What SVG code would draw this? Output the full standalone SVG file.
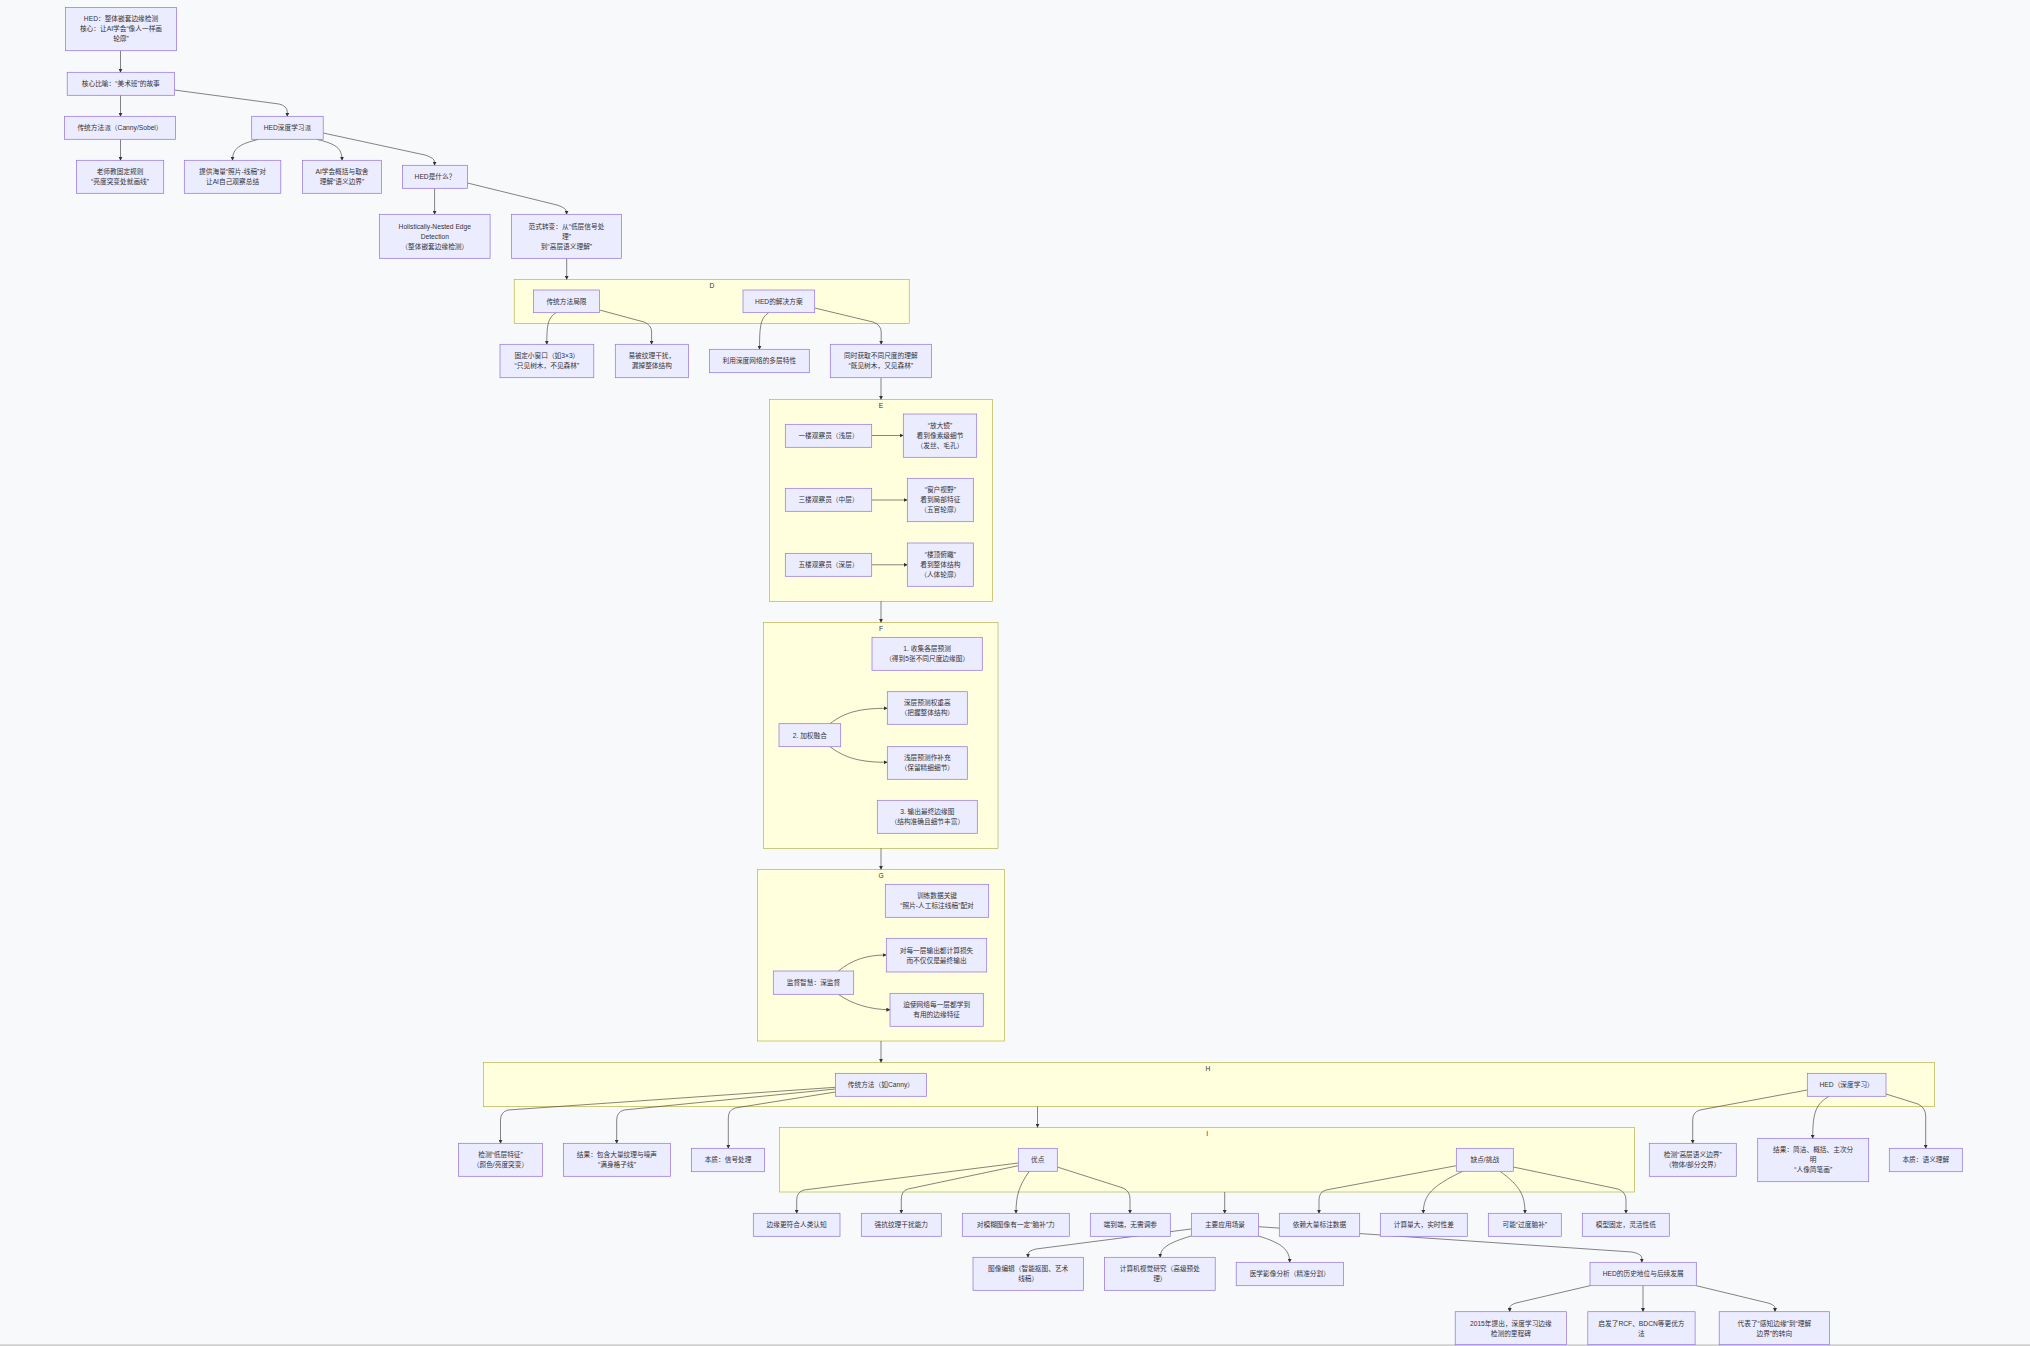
<svg xmlns="http://www.w3.org/2000/svg" width="2030" height="1346" viewBox="0 0 2030 1346">
<style>
text{font-family:"Liberation Sans","Noto Sans CJK SC",sans-serif;font-size:6.7px;fill:#333;text-anchor:middle}
.node rect{fill:#ECECFF;stroke:#9370DB;stroke-width:0.7}
.cluster rect{fill:#ffffde;stroke:#aaaa33;stroke-width:0.6}
.edges path{fill:none;stroke:#333;stroke-width:0.6;marker-end:url(#arr)}
</style>
<defs>
<marker id="arr" viewBox="0 0 10 10" refX="9" refY="5" markerWidth="4" markerHeight="4" markerUnits="userSpaceOnUse" orient="auto"><path d="M0,0 L10,5 L0,10 z" fill="#333"/></marker>
</defs>
<rect x="0" y="0" width="2030" height="1346" fill="#f8f9fb"/>
<rect x="0" y="1344.3" width="2030" height="1.7" fill="#cfcfcf"/>

<g id="clusters">
<g id="cluster-D" class="cluster"><rect x="514.2" y="279.3" width="395" height="44"/><text x="712" y="287.5">D</text></g>
<g id="cluster-E" class="cluster"><rect x="769.3" y="399.3" width="223.4" height="202"/><text x="881" y="407.5">E</text></g>
<g id="cluster-F" class="cluster"><rect x="763.3" y="622.3" width="234.7" height="226"/><text x="881" y="630.5">F</text></g>
<g id="cluster-G" class="cluster"><rect x="757.3" y="869.3" width="247.4" height="171.7"/><text x="881" y="877.5">G</text></g>
<g id="cluster-H" class="cluster"><rect x="483.5" y="1062.3" width="1451.2" height="44.4"/><text x="1208" y="1070.5">H</text></g>
<g id="cluster-I" class="cluster"><rect x="779.3" y="1127.5" width="855.2" height="64.5"/><text x="1207.3" y="1136">I</text></g>
</g>

<g id="connectors" class="edges">
<path d="M120.5,50.7 L120.5,72.3"/>
<path d="M120.5,95.3 L120.5,116.3"/>
<path d="M174.4,90 L279,104 Q287.3,106 287.3,112 L287.3,116.3"/>
<path d="M120.5,139.3 L120.5,160.3"/>
<path d="M258.6,139.3 C240,144 232.5,148 232.5,160.3"/>
<path d="M316.7,139.3 C336,144 342,148 342,160.3"/>
<path d="M323.2,133 L425,155 Q434.6,158 434.6,162 L434.6,165.3"/>
<path d="M434.6,188.3 L434.6,214.3"/>
<path d="M467.5,183 L557,205 Q566.6,208 566.6,212 L566.6,214.3"/>
<path d="M566.7,258.3 L566.7,279.3"/>
<path d="M556,312.7 C548,318 546.8,324 546.8,344.3"/>
<path d="M599.6,310 L644,322 Q651.6,325 651.6,332 L651.6,344.3"/>
<path d="M768.7,312.7 C761,318 759.5,324 759.5,349.3"/>
<path d="M814.7,308 L873,322 Q881.2,325 881.2,332 L881.2,344.3"/>
<path d="M881,377.7 L881,399.3"/>
<path d="M871.7,435.5 L903.3,435.5"/>
<path d="M871.7,500 L907.3,500"/>
<path d="M871.7,564.8 L907.3,564.8"/>
<path d="M881,601.3 L881,622.3"/>
<path d="M830,723.7 C845,712 860,708.3 887.3,708.3"/>
<path d="M830,746.7 C845,758 860,762.3 887.3,762.3"/>
<path d="M881,848.3 L881,869.3"/>
<path d="M838.3,971 C852,960 866,955 886.3,955"/>
<path d="M838.3,994.3 C852,1004 870,1009.7 890,1009.7"/>
<path d="M881,1041 L881,1062.3"/>
<path d="M835.4,1087.3 L508,1110 Q500.5,1112 500.5,1120 L500.5,1143.3"/>
<path d="M835.4,1089 L624,1110 Q616.7,1112 616.7,1120 L616.7,1143.3"/>
<path d="M835.4,1092 L735,1108 Q728.3,1110 728.3,1118 L728.3,1148.3"/>
<path d="M1037.5,1106.7 L1037.5,1127.3"/>
<path d="M1807.3,1090 L1700,1110 Q1692.7,1112 1692.7,1120 L1692.7,1143.3"/>
<path d="M1829,1096.3 C1816,1104 1812.7,1112 1812.7,1138.3"/>
<path d="M1886,1094 L1918,1104 Q1925.7,1108 1925.7,1116 L1925.7,1148.3"/>
<path d="M1018.3,1163 L804,1190 Q796.7,1192 796.7,1200 L796.7,1213.3"/>
<path d="M1018.3,1165.7 L908,1189 Q901.3,1191 901.3,1199 L901.3,1213.3"/>
<path d="M1029.3,1171.3 C1019,1186 1016,1195 1016,1213.3"/>
<path d="M1057.3,1167 L1123,1188 Q1130,1191 1130,1199 L1130,1213.3"/>
<path d="M1456.3,1165.7 L1326,1190 Q1319,1192 1319,1200 L1319,1213.3"/>
<path d="M1462.7,1171.3 C1432,1186 1423.3,1195 1423.3,1213.3"/>
<path d="M1500,1171.3 C1520,1186 1525,1195 1525,1213.3"/>
<path d="M1513.3,1167 L1618,1189 Q1626,1192 1626,1200 L1626,1213.3"/>
<path d="M1224.7,1192 L1224.7,1213.3"/>
<path d="M1191,1229 L1036,1249 Q1028,1251 1028,1254 L1028,1257.3"/>
<path d="M1191,1236 C1168,1243 1160.2,1248 1160.2,1257.3"/>
<path d="M1258.4,1236 C1282,1243 1289.7,1250 1289.7,1262.3"/>
<path d="M1258.4,1226.7 L1632,1252 Q1641.8,1254 1641.8,1258 L1641.8,1262.3"/>
<path d="M1590,1285.7 L1516,1303 Q1509.7,1305 1509.7,1308 L1509.7,1311.7"/>
<path d="M1643,1285.7 L1643,1311.7"/>
<path d="M1696.3,1285.7 L1768,1303 Q1775,1305 1775,1308 L1775,1311.7"/>
</g>

<g id="nodes">
<g id="n-A" class="node"><rect x="65.5" y="7.5" width="111" height="43.2"/><text><tspan x="121" y="21.4">HED：整体嵌套边缘检测</tspan><tspan x="121" y="31.4">核心：让AI学会“像人一样画</tspan><tspan x="121" y="41.4">轮廓”</tspan></text></g>
<g id="n-B" class="node"><rect x="67.2" y="72.3" width="107.2" height="23"/><text x="120.8" y="86.2">核心比喻：“美术班”的故事</text></g>
<g id="n-C1" class="node"><rect x="64.5" y="116.3" width="111" height="23"/><text x="120" y="130.2">传统方法派（Canny/Sobel）</text></g>
<g id="n-C2" class="node"><rect x="251.7" y="116.3" width="71.5" height="23"/><text x="287.45" y="130.2">HED深度学习派</text></g>
<g id="n-D1" class="node"><rect x="76.4" y="160.3" width="87.3" height="33"/><text><tspan x="120.05" y="174.2">老师教固定规则</tspan><tspan x="120.05" y="184.2">“亮度突变处就画线”</tspan></text></g>
<g id="n-D2" class="node"><rect x="184.3" y="160.3" width="96.5" height="33"/><text><tspan x="232.55" y="174.2">提供海量“照片-线稿”对</tspan><tspan x="232.55" y="184.2">让AI自己观察总结</tspan></text></g>
<g id="n-D3" class="node"><rect x="302.6" y="160.3" width="78.8" height="33"/><text><tspan x="342" y="174.2">AI学会概括与取舍</tspan><tspan x="342" y="184.2">理解“语义边界”</tspan></text></g>
<g id="n-D4" class="node"><rect x="402.5" y="165.3" width="65" height="23"/><text x="435" y="179.2">HED是什么？</text></g>
<g id="n-E1" class="node"><rect x="379.5" y="214.3" width="110.6" height="44"/><text><tspan x="434.8" y="228.7">Holistically-Nested Edge</tspan><tspan x="434.8" y="238.7">Detection</tspan><tspan x="434.8" y="248.7">（整体嵌套边缘检测）</tspan></text></g>
<g id="n-E2" class="node"><rect x="511.5" y="214.3" width="109.9" height="44"/><text><tspan x="566.45" y="228.7">范式转变：从“低层信号处</tspan><tspan x="566.45" y="238.7">理”</tspan><tspan x="566.45" y="248.7">到“高层语义理解”</tspan></text></g>

<g id="n-D-lim" class="node"><rect x="533.4" y="290" width="66.2" height="22.7"/><text x="566.5" y="303.75">传统方法局限</text></g>
<g id="n-D-sol" class="node"><rect x="743" y="290" width="71.7" height="22.7"/><text x="778.85" y="303.75">HED的解决方案</text></g>
<g id="n-D-win" class="node"><rect x="500" y="344.3" width="93.8" height="33.4"/><text><tspan x="546.9" y="358.4">固定小窗口（如3×3）</tspan><tspan x="546.9" y="368.4">“只见树木，不见森林”</tspan></text></g>
<g id="n-D-tex" class="node"><rect x="615.3" y="344.3" width="73.1" height="33.4"/><text><tspan x="651.85" y="358.4">易被纹理干扰，</tspan><tspan x="651.85" y="368.4">漏掉整体结构</tspan></text></g>
<g id="n-D-multi" class="node"><rect x="709.4" y="349.3" width="99.9" height="23.4"/><text x="759.35" y="363.4">利用深度网络的多层特性</text></g>
<g id="n-D-scale" class="node"><rect x="830.3" y="344.3" width="101.1" height="33.4"/><text><tspan x="880.85" y="358.4">同时获取不同尺度的理解</tspan><tspan x="880.85" y="368.4">“既见树木，又见森林”</tspan></text></g>

<g id="n-E-f1" class="node"><rect x="785.3" y="424.3" width="86.4" height="23"/><text x="828.5" y="438.2">一楼观察员（浅层）</text></g>
<g id="n-E-v1" class="node"><rect x="903.3" y="414" width="73.4" height="43.3"/><text><tspan x="940" y="428">“放大镜”</tspan><tspan x="940" y="438">看到像素级细节</tspan><tspan x="940" y="448">（发丝、毛孔）</tspan></text></g>
<g id="n-E-f3" class="node"><rect x="785.3" y="488.3" width="86.4" height="23"/><text x="828.5" y="502.2">三楼观察员（中层）</text></g>
<g id="n-E-v3" class="node"><rect x="907.3" y="478.3" width="66" height="43.4"/><text><tspan x="940.3" y="492.4">“窗户视野”</tspan><tspan x="940.3" y="502.4">看到局部特征</tspan><tspan x="940.3" y="512.4">（五官轮廓）</tspan></text></g>
<g id="n-E-f5" class="node"><rect x="785.3" y="553.3" width="86.4" height="23"/><text x="828.5" y="567.2">五楼观察员（深层）</text></g>
<g id="n-E-v5" class="node"><rect x="907.3" y="543" width="66" height="43.3"/><text><tspan x="940.3" y="557">“楼顶俯瞰”</tspan><tspan x="940.3" y="567">看到整体结构</tspan><tspan x="940.3" y="577">（人体轮廓）</tspan></text></g>

<g id="n-F-1" class="node"><rect x="872" y="637.3" width="110.3" height="33"/><text><tspan x="927.15" y="651.2">1. 收集各层预测</tspan><tspan x="927.15" y="661.2">（得到5张不同尺度边缘图）</tspan></text></g>
<g id="n-F-deep" class="node"><rect x="887.3" y="691.7" width="80" height="32.6"/><text><tspan x="927.3" y="705.4">深层预测权重高</tspan><tspan x="927.3" y="715.4">（把握整体结构）</tspan></text></g>
<g id="n-F-2" class="node"><rect x="779" y="723.7" width="61.7" height="23"/><text x="809.85" y="737.6">2. 加权融合</text></g>
<g id="n-F-shallow" class="node"><rect x="887.3" y="746.7" width="80" height="32.6"/><text><tspan x="927.3" y="760.4">浅层预测作补充</tspan><tspan x="927.3" y="770.4">（保留精细细节）</tspan></text></g>
<g id="n-F-3" class="node"><rect x="877.3" y="800.3" width="100" height="33"/><text><tspan x="927.3" y="814.2">3. 输出最终边缘图</tspan><tspan x="927.3" y="824.2">（结构准确且细节丰富）</tspan></text></g>

<g id="n-G-data" class="node"><rect x="885.3" y="884.3" width="103.4" height="33"/><text><tspan x="937" y="898.2">训练数据关键</tspan><tspan x="937" y="908.2">“照片-人工标注线稿”配对</tspan></text></g>
<g id="n-G-loss" class="node"><rect x="886.3" y="938.3" width="100.4" height="33.7"/><text><tspan x="936.5" y="952.55">对每一层输出都计算损失</tspan><tspan x="936.5" y="962.55">而不仅仅是最终输出</tspan></text></g>
<g id="n-G-sup" class="node"><rect x="773.3" y="971" width="80.4" height="23.3"/><text x="813.5" y="985.05">监督智慧：深监督</text></g>
<g id="n-G-force" class="node"><rect x="890" y="993.3" width="93.3" height="33"/><text><tspan x="936.65" y="1007.2">迫使网络每一层都学到</tspan><tspan x="936.65" y="1017.2">有用的边缘特征</tspan></text></g>

<g id="n-H-trad" class="node"><rect x="835.4" y="1073.3" width="91" height="23"/><text x="880.9" y="1087.2">传统方法（如Canny）</text></g>
<g id="n-H-hed" class="node"><rect x="1807.3" y="1073.3" width="78.7" height="23"/><text x="1846.65" y="1087.2">HED（深度学习）</text></g>
<g id="n-H-t1" class="node"><rect x="458.6" y="1143.3" width="83.8" height="33"/><text><tspan x="500.5" y="1157.2">检测“低层特征”</tspan><tspan x="500.5" y="1167.2">（颜色/亮度突变）</tspan></text></g>
<g id="n-H-t2" class="node"><rect x="563.4" y="1143.3" width="107.1" height="33"/><text><tspan x="616.95" y="1157.2">结果：包含大量纹理与噪声</tspan><tspan x="616.95" y="1167.2">“满身格子线”</tspan></text></g>
<g id="n-H-t3" class="node"><rect x="691.5" y="1148.3" width="73.1" height="23.4"/><text x="728.05" y="1162.4">本质：信号处理</text></g>
<g id="n-H-h1" class="node"><rect x="1649.3" y="1143.3" width="87" height="33"/><text><tspan x="1692.8" y="1157.2">检测“高层语义边界”</tspan><tspan x="1692.8" y="1167.2">（物体/部分交界）</tspan></text></g>
<g id="n-H-h2" class="node"><rect x="1757.7" y="1138.3" width="111" height="43.4"/><text><tspan x="1813.2" y="1152.4">结果：简洁、概括、主次分</tspan><tspan x="1813.2" y="1162.4">明</tspan><tspan x="1813.2" y="1172.4">“人像简笔画”</tspan></text></g>
<g id="n-H-h3" class="node"><rect x="1889.3" y="1148.3" width="73" height="23.4"/><text x="1925.8" y="1162.4">本质：语义理解</text></g>

<g id="n-I-pro" class="node"><rect x="1018.3" y="1148.3" width="39" height="23"/><text x="1037.8" y="1162.2">优点</text></g>
<g id="n-I-con" class="node"><rect x="1456.3" y="1148.3" width="57" height="23"/><text x="1484.8" y="1162.2">缺点/挑战</text></g>
<g id="n-p1" class="node"><rect x="753.3" y="1213.3" width="86.7" height="23"/><text x="796.65" y="1227.2">边缘更符合人类认知</text></g>
<g id="n-p2" class="node"><rect x="861.3" y="1213.3" width="80" height="23"/><text x="901.3" y="1227.2">强抗纹理干扰能力</text></g>
<g id="n-p3" class="node"><rect x="962.3" y="1213.3" width="107" height="23"/><text x="1015.8" y="1227.2">对模糊图像有一定“脑补”力</text></g>
<g id="n-p4" class="node"><rect x="1090.3" y="1213.3" width="80" height="23"/><text x="1130.3" y="1227.2">端到端，无需调参</text></g>
<g id="n-app" class="node"><rect x="1191.5" y="1213.3" width="67" height="23"/><text x="1225" y="1227.2">主要应用场景</text></g>
<g id="n-c1" class="node"><rect x="1279.3" y="1213.3" width="80.4" height="23"/><text x="1319.5" y="1227.2">依赖大量标注数据</text></g>
<g id="n-c2" class="node"><rect x="1380.3" y="1213.3" width="87" height="23"/><text x="1423.8" y="1227.2">计算量大，实时性差</text></g>
<g id="n-c3" class="node"><rect x="1488.3" y="1213.3" width="73" height="23"/><text x="1524.8" y="1227.2">可能“过度脑补”</text></g>
<g id="n-c4" class="node"><rect x="1582.3" y="1213.3" width="87" height="23"/><text x="1625.8" y="1227.2">模型固定，灵活性低</text></g>

<g id="n-a1" class="node"><rect x="973" y="1257.3" width="110.4" height="33"/><text><tspan x="1028.2" y="1271.2">图像编辑（智能抠图、艺术</tspan><tspan x="1028.2" y="1281.2">线稿）</tspan></text></g>
<g id="n-a2" class="node"><rect x="1104.5" y="1257.3" width="110.7" height="33"/><text><tspan x="1159.85" y="1271.2">计算机视觉研究（高级预处</tspan><tspan x="1159.85" y="1281.2">理）</tspan></text></g>
<g id="n-a3" class="node"><rect x="1236.2" y="1262.3" width="107.2" height="23.4"/><text x="1289.8" y="1276.4">医学影像分析（精准分割）</text></g>
<g id="n-hist" class="node"><rect x="1590" y="1262.3" width="106.3" height="23.4"/><text x="1643.15" y="1276.4">HED的历史地位与后续发展</text></g>
<g id="n-h1" class="node"><rect x="1455.2" y="1311.7" width="111.3" height="33"/><text><tspan x="1510.85" y="1325.6">2015年提出，深度学习边缘</tspan><tspan x="1510.85" y="1335.6">检测的里程碑</tspan></text></g>
<g id="n-h2" class="node"><rect x="1587.8" y="1311.7" width="107.3" height="33"/><text><tspan x="1641.45" y="1325.6">启发了RCF、BDCN等更优方</tspan><tspan x="1641.45" y="1335.6">法</tspan></text></g>
<g id="n-h3" class="node"><rect x="1719.2" y="1311.7" width="110.3" height="33"/><text><tspan x="1774.35" y="1325.6">代表了“感知边缘”到“理解</tspan><tspan x="1774.35" y="1335.6">边界”的转向</tspan></text></g>
</g>
</svg>
